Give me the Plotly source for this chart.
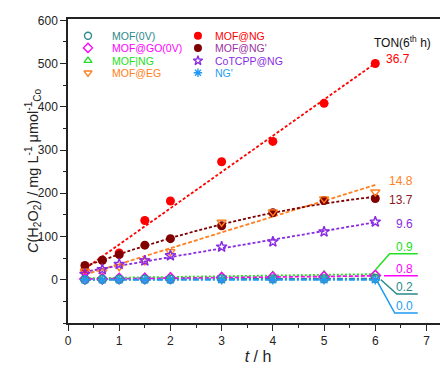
import numpy as np
import plotly.graph_objects as go

# ---------------- data ----------------
t_h = [0.33, 0.67, 1.0, 1.5, 2.0, 3.0, 4.0, 5.0, 6.0]

series_names = ["MOF(0V)", "MOF@GO(0V)", "MOF|NG", "MOF@EG",
                "MOF@NG", "MOF@NG'", "CoTCPP@NG", "NG'"]

mof_0v      = [0, 1, 1, 1, 1, 2, 2, 2, 3]
mof_go_0v   = [2, 2, 3, 3, 4, 5, 6, 7, 10]
mof_ng_bar  = [3, 4, 5, 6, 7, 8, 10, 11, 13]
mof_eg      = [20, 18, 30, 44, 65, 133, 157, 187, 203]
mof_ng      = [22, 45, 62, 137, 182, 273, 320, 408, 500]
mof_ng_p    = [33, 45, 58, 80, 95, 125, 155, 183, 188]
cotcpp_ng   = [13, 24, 36, 44, 56, 76, 88, 111, 134]
ng_p        = [0, 0, 0, 0, 0, 0, 0, 0, 0]

ton_labels  = ["0.2", "0.8", "0.9", "14.8", "36.7", "13.7", "9.6", "0.0"]

values = [mof_0v, mof_go_0v, mof_ng_bar, mof_eg, mof_ng, mof_ng_p, cotcpp_ng, ng_p]

# ---------------- styles ----------------
colors = ["#2A8A8A", "#FF00FF", "#22E022", "#FF8020",
          "#FF0000", "#800000", "#8A2BE2", "#1E9BF0"]
text_colors = ["#2A8A8A", "#FF00FF", "#22E022", "#FF8020",
               "#FF0000", "#9932A0", "#8A2BE2", "#1EA0F0"]
ton_colors = ["#2A8A8A", "#FF00FF", "#22E022", "#FF8020",
              "#FF0000", "#8B1A1A", "#8A2BE2", "#1EA0F0"]
symbols = ["circle-open", "diamond-open", "triangle-up-open", "triangle-down-open",
           "circle", "circle", "star-open", "asterisk-open"]
msizes = [8, 8, 8, 8, 9, 9, 8, 8]
leg_sizes = [7, 7, 7, 7, 8, 8, 7, 7]
dashes = ["6px,2px,2px,2px", "4px,2px", "2px,2px", "4px,2px",
          "3px,2px", "3px,2px", "3px,2px", "6px,2px,2px,2px"]
fit_deg = [1, 1, 1, 1, 1, 2, 1, 1]

FONT = "Liberation Sans, Arial, sans-serif"

fig = go.Figure()

# fitted dashed lines
xfit = np.linspace(min(t_h), max(t_h), 60)
for i, ys in enumerate(values):
    coef = np.polyfit(t_h, ys, fit_deg[i])
    fig.add_trace(go.Scatter(
        x=xfit, y=np.polyval(coef, xfit), mode="lines",
        line=dict(color=colors[i], width=1.8, dash=dashes[i]),
        showlegend=False, hoverinfo="skip"))

# data markers
order = [4, 5, 3, 6, 2, 1, 0, 7]
for i in order:
    filled = not symbols[i].endswith("open")
    fig.add_trace(go.Scatter(
        x=t_h, y=values[i], mode="markers", name=series_names[i],
        marker=dict(symbol=symbols[i], size=msizes[i], color=colors[i],
                    line=dict(color=colors[i], width=1.4 if not filled else 0)),
        showlegend=False))

# manual two-column legend (positions in plot-area fractions)
leg_sym_x = [0.0526, 0.342]
leg_txt_x = [0.1097, 0.3816]
leg_rows_y = [0.945, 0.905, 0.863, 0.823]
for i in range(8):
    col, row = divmod(i, 4)
    filled = not symbols[i].endswith("open")
    fig.add_trace(go.Scatter(
        x=[leg_sym_x[col]], y=[leg_rows_y[row]], xaxis="x2", yaxis="y2",
        mode="markers", showlegend=False, hoverinfo="skip",
        marker=dict(symbol=symbols[i], size=leg_sizes[i], color=colors[i],
                    line=dict(color=colors[i], width=1.4 if not filled else 0))))
    fig.add_annotation(
        x=leg_txt_x[col], y=leg_rows_y[row], xref="paper", yref="paper",
        text=series_names[i], showarrow=False, xanchor="left", yanchor="middle",
        font=dict(family=FONT, size=10.5, color=text_colors[i]))

# TON annotations
ton_y = [-16, 26, 76, 229, 511, 185, 130, -60]
ton_x = [6.77, 6.77, 6.77, 6.77, 6.71, 6.77, 6.77, 6.77]
for i in range(8):
    fig.add_annotation(x=ton_x[i], y=ton_y[i], text=ton_labels[i], showarrow=False,
                       xanchor="right", yanchor="middle",
                       font=dict(family=FONT, size=12, color=ton_colors[i]))
fig.add_annotation(x=6.54, y=550, text="TON(6<sup>th</sup> h)", showarrow=False,
                   xanchor="center", yanchor="middle",
                   font=dict(family=FONT, size=12, color="#111111"))

# leader lines for the small TON values
leaders = [
    (colors[2], [6.01, 6.28, 6.83], [24, 60, 60]),
    (colors[1], [6.17, 6.83], [9, 9]),
    (colors[0], [6.11, 6.42, 6.83], [0, -33, -33]),
    (colors[7], [6.05, 6.38, 6.83], [-6, -77, -77]),
]
for c, xs, ys in leaders:
    path = "M " + " L ".join(f"{a},{b}" for a, b in zip(xs, ys))
    fig.add_shape(type="path", path=path, xref="x", yref="y",
                  line=dict(color=c, width=1.5))

# y-axis title as a rotated annotation for precise placement
fig.add_annotation(
    x=0, y=0.5, xref="paper", yref="paper", xshift=-35, textangle=-90,
    xanchor="center", yanchor="middle", showarrow=False,
    text="<i>C</i>(H<sub>2</sub>O<sub>2</sub>) / mg L<sup>-1</sup> μmol<sup>-1</sup><sub>Co</sub>",
    font=dict(family=FONT, size=14.5, color="#222222"))

# page body adds an 8px margin, so the figure is laid out 8px smaller
fig.update_layout(
    width=440, height=362,
    margin=dict(l=60, r=0, t=11, b=47, autoexpand=False),
    paper_bgcolor="white", plot_bgcolor="white",
    font=dict(family=FONT, size=12, color="#222222"),
    xaxis=dict(range=[0, 7.42], tickmode="array", tickvals=list(range(8)),
               showline=True, linecolor="#222222", linewidth=1.5, mirror=True,
               ticks="outside", ticklen=6, tickwidth=1.2, tickcolor="#222222",
               minor=dict(dtick=0.5, tick0=0, ticks="outside", ticklen=3,
                          tickwidth=1.2, tickcolor="#222222"),
               showgrid=False, zeroline=False,
               title=dict(text="<i>t</i> / h", font=dict(size=16), standoff=2)),
    yaxis=dict(range=[-100, 603], tickmode="array", tickvals=[0, 100, 200, 300, 400, 500, 600],
               showline=True, linecolor="#222222", linewidth=1.5,
               ticks="outside", ticklen=6, tickwidth=1.2, tickcolor="#222222",
               minor=dict(dtick=50, tick0=0, ticks="outside", ticklen=3,
                          tickwidth=1.2, tickcolor="#222222"),
               showgrid=False, zeroline=False),
    xaxis2=dict(overlaying="x", range=[0, 1], visible=False),
    yaxis2=dict(overlaying="y", range=[0, 1], visible=False),
)

fig.write_html("out.html")
